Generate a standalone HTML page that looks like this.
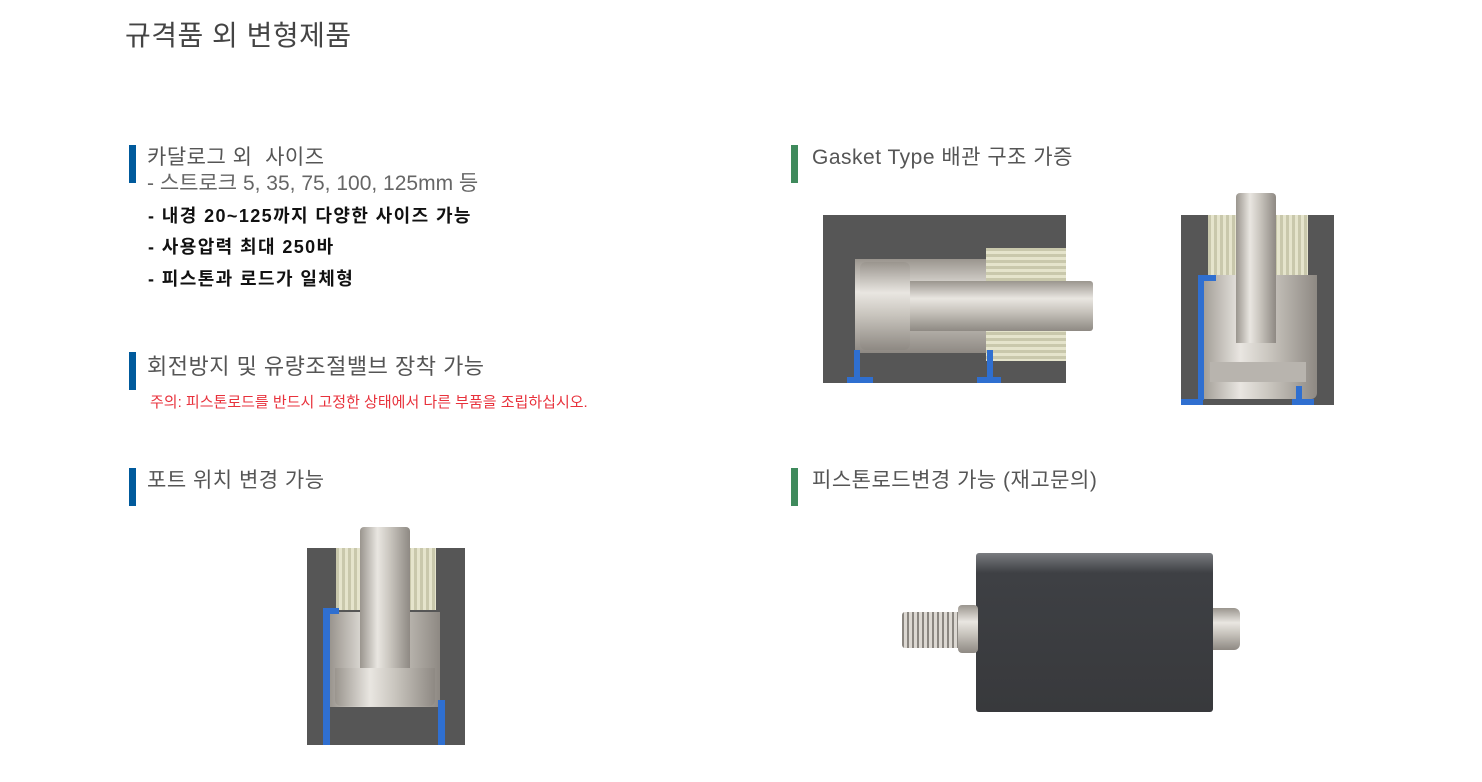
<!DOCTYPE html>
<html><head><meta charset="utf-8"><style>
body{margin:0;width:1482px;height:782px;background:#fff;position:relative;overflow:hidden;font-family:"Liberation Sans","Noto Sans CJK KR",sans-serif}
.a{position:absolute}
.t{position:absolute;white-space:nowrap}
.bb{position:absolute;width:7px;height:38px;background:#005a9c}
.gb{position:absolute;width:7px;height:38px;background:#3f8a5c}
.h{font-size:21px;color:#555;letter-spacing:0.5px}
.b{font-size:18px;font-weight:bold;color:#111;letter-spacing:1.4px}
.dk{background:#565656}
.steel{background:linear-gradient(#9a958e,#e9e6e1 35%,#c9c5be 60%,#8e8983)}
.steelv{background:linear-gradient(90deg,#9a958e,#e9e6e1 35%,#c9c5be 60%,#8e8983)}
.brass{background:repeating-linear-gradient(#c9c8ac 0 3px,#e5e4cc 3px 6px)}
.brassv{background:repeating-linear-gradient(90deg,#c9c8ac 0 3px,#e5e4cc 3px 6px)}
.blue{background:#2f6fd0}
</style></head><body>
<div class="t" style="left:125px;top:14px;font-size:28px;color:#444;letter-spacing:0.5px">규격품 외 변형제품</div>

<div class="bb" style="left:129px;top:145px"></div>
<div class="t h" style="left:147px;top:141px">카달로그 외&nbsp; 사이즈</div>
<div class="t" style="left:147px;top:167px;font-size:21px;color:#666">- 스트로크 5, 35, 75, 100, 125mm 등</div>
<div class="t b" style="left:148px;top:202px">- 내경 20~125까지 다양한 사이즈 가능</div>
<div class="t b" style="left:148px;top:233px">- 사용압력 최대 250바</div>
<div class="t b" style="left:148px;top:265px">- 피스톤과 로드가 일체형</div>

<div class="bb" style="left:129px;top:352px"></div>
<div class="t h" style="left:147px;top:349px;font-size:22px">회전방지 및 유량조절밸브 장착 가능</div>
<div class="t" style="left:150px;top:391px;font-size:15px;color:#e8323c">주의: 피스톤로드를 반드시 고정한 상태에서 다른 부품을 조립하십시오.</div>

<div class="bb" style="left:129px;top:468px"></div>
<div class="t h" style="left:147px;top:464px">포트 위치 변경 가능</div>

<div class="gb" style="left:791px;top:145px"></div>
<div class="t h" style="left:812px;top:141px">Gasket Type 배관 구조 가증</div>
<div class="gb" style="left:791px;top:468px"></div>
<div class="t h" style="left:812px;top:464px">피스톤로드변경 가능 (재고문의)</div>

<!-- image 1 -->
<div class="a dk" style="left:823px;top:215px;width:243px;height:168px"></div>
<div class="a steel" style="left:855px;top:259px;width:132px;height:94px"></div>
<div class="a steel" style="left:860px;top:262px;width:50px;height:88px;border-radius:6px"></div>
<div class="a brass" style="left:986px;top:248px;width:80px;height:113px"></div>
<div class="a steel" style="left:910px;top:281px;width:183px;height:50px;border-radius:0 3px 3px 0"></div>
<div class="a blue" style="left:854px;top:350px;width:6px;height:28px"></div>
<div class="a blue" style="left:847px;top:377px;width:26px;height:6px"></div>
<div class="a blue" style="left:987px;top:350px;width:6px;height:28px"></div>
<div class="a blue" style="left:977px;top:377px;width:24px;height:6px"></div>

<!-- image 2 -->
<div class="a dk" style="left:1181px;top:215px;width:153px;height:190px"></div>
<div class="a brassv" style="left:1208px;top:215px;width:100px;height:60px"></div>
<div class="a steelv" style="left:1199px;top:275px;width:118px;height:110px"></div>
<div class="a steelv" style="left:1236px;top:193px;width:40px;height:150px;border-radius:4px 4px 0 0"></div>
<div class="a steelv" style="left:1199px;top:343px;width:118px;height:56px;border-radius:0 0 6px 6px"></div>
<div class="a" style="left:1210px;top:362px;width:96px;height:20px;background:#b8b4ae"></div>
<div class="a blue" style="left:1198px;top:275px;width:6px;height:125px"></div>
<div class="a blue" style="left:1198px;top:275px;width:18px;height:6px"></div>
<div class="a blue" style="left:1181px;top:399px;width:22px;height:6px"></div>
<div class="a blue" style="left:1296px;top:386px;width:6px;height:16px"></div>
<div class="a blue" style="left:1292px;top:399px;width:22px;height:6px"></div>

<!-- image 3 -->
<div class="a dk" style="left:307px;top:548px;width:158px;height:197px"></div>
<div class="a brassv" style="left:336px;top:548px;width:100px;height:62px"></div>
<div class="a steelv" style="left:330px;top:612px;width:110px;height:95px"></div>
<div class="a steelv" style="left:360px;top:527px;width:50px;height:150px;border-radius:4px 4px 0 0"></div>
<div class="a steelv" style="left:335px;top:668px;width:100px;height:38px;border-radius:0 0 6px 6px"></div>
<div class="a blue" style="left:323px;top:610px;width:7px;height:135px"></div>
<div class="a blue" style="left:323px;top:608px;width:16px;height:6px"></div>
<div class="a blue" style="left:438px;top:700px;width:7px;height:45px"></div>

<!-- image 4 -->
<div class="a" style="left:976px;top:553px;width:237px;height:159px;background:linear-gradient(#7a7c80,#55575b 12px,#3e4044 20px,#38393c);border-radius:3px"></div>
<div class="a" style="left:902px;top:612px;width:60px;height:36px;background:repeating-linear-gradient(90deg,#8a8680 0 2px,#dcd8d2 2px 5px);border-radius:3px"></div>
<div class="a steel" style="left:958px;top:605px;width:20px;height:48px;border-radius:4px"></div>
<div class="a steel" style="left:1213px;top:608px;width:27px;height:42px;border-radius:0 6px 6px 0"></div>
</body></html>
